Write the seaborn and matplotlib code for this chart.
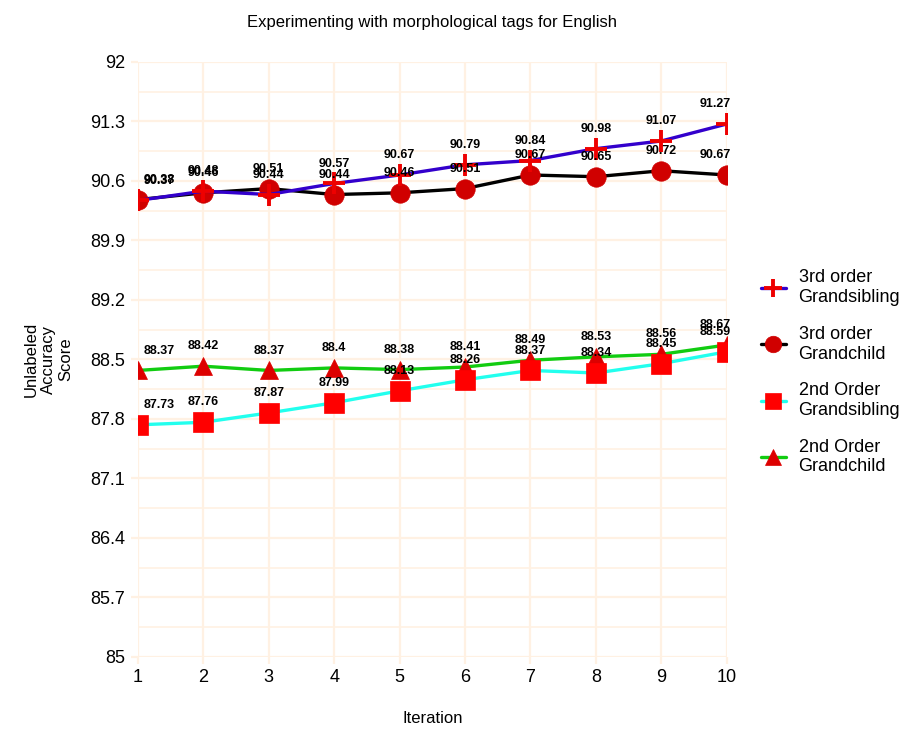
import pandas as pd
import seaborn as sns
import matplotlib.pyplot as plt

iterations = [1, 2, 3, 4, 5, 6, 7, 8, 9, 10]
gs3 = [90.37, 90.48, 90.44, 90.57, 90.67, 90.79, 90.84, 90.98, 91.07, 91.27]
gc3 = [90.38, 90.46, 90.51, 90.44, 90.46, 90.51, 90.67, 90.65, 90.72, 90.67]
gs2 = [87.73, 87.76, 87.87, 87.99, 88.13, 88.26, 88.37, 88.34, 88.45, 88.59]
gc2 = [88.37, 88.42, 88.37, 88.4, 88.38, 88.41, 88.49, 88.53, 88.56, 88.67]
y_ticks = [85, 85.7, 86.4, 87.1, 87.8, 88.5, 89.2, 89.9, 90.6, 91.3, 92]

sns.set_style('white')
plt.rcParams['font.family'] = ['Liberation Sans', 'DejaVu Sans']
plt.rcParams['text.color'] = 'black'
plt.rcParams['axes.labelcolor'] = 'black'
plt.rcParams['xtick.color'] = 'black'
plt.rcParams['ytick.color'] = 'black'

fig = plt.figure(figsize=(9.13, 7.29), dpi=100)
ax = fig.add_axes([0.151, 0.099, 0.645, 0.816])

grid_col = '#fff1e3'

# name, values, line colour, marker, marker size, marker colour
series = [
    ('2nd Order\nGrandchild', gc2, '#11cc11', '^', 13, '#dd0000'),
    ('2nd Order\nGrandsibling', gs2, '#22ffee', 's', 14, '#ff0000'),
    ('3rd order\nGrandchild', gc3, '#000000', 'o', 14, '#d00000'),
    ('3rd order\nGrandsibling', gs3, '#3300cc', '+', 16, '#ee0000'),
]

handles = {}
for name, vals, lc, mk, ms, mc in series:
    df = pd.DataFrame({'Iteration': iterations, 'Score': vals})
    sns.lineplot(data=df, x='Iteration', y='Score', ax=ax, color=lc, linewidth=2.4,
                 marker=mk, markersize=ms, markerfacecolor=mc, markeredgecolor=mc,
                 markeredgewidth=2.8 if mk == '+' else 0.5, label=name, zorder=3)
    handles[name] = ax.lines[-1]

for name, vals, lc, mk, ms, mc in series:
    for i, (x, y) in enumerate(zip(iterations, vals)):
        if i == 0:
            ha, dx = 'left', 4
        elif i == len(vals) - 1:
            ha, dx = 'right', 3
        else:
            ha, dx = 'center', 0
        ax.annotate(f'{y:g}', (x, y), xytext=(dx, 10), textcoords='offset points',
                    ha=ha, va='bottom', fontsize=9, fontweight='bold', zorder=5,
                    annotation_clip=False)

ax.set_xlim(1, 10)
ax.set_ylim(85, 92)
ax.set_xticks(iterations)
ax.set_yticks(y_ticks)
ax.set_yticklabels([f'{t:g}' for t in y_ticks])
ax.set_yticks([t + 0.35 for t in y_ticks[:-1]], minor=True)
ax.grid(True, which='major', color=grid_col, linewidth=1.6, zorder=0)
ax.grid(True, which='minor', axis='y', color=grid_col, linewidth=1.2, zorder=0)
ax.tick_params(axis='both', which='major', length=5, width=1.6, color=grid_col,
               labelsize=13, pad=4, left=True, bottom=True)
ax.tick_params(axis='y', which='minor', length=0)
for s in ax.spines.values():
    s.set_visible(False)

ax.set_title('Experimenting with morphological tags for English', fontsize=12, pad=25)
ax.set_xlabel('Iteration', fontsize=12, labelpad=18)
ax.set_ylabel('Unlabeled\nAccuracy\nScore', fontsize=12, labelpad=12)

order = ['3rd order\nGrandsibling', '3rd order\nGrandchild',
         '2nd Order\nGrandsibling', '2nd Order\nGrandchild']
ax.legend([handles[n] for n in order], order, loc='center left', bbox_to_anchor=(1.03, 0.478),
          frameon=False, fontsize=13, handlelength=1.4, labelspacing=1.1, handletextpad=0.7,
          markerscale=0.85)

fig.savefig('out.png', dpi=100)
